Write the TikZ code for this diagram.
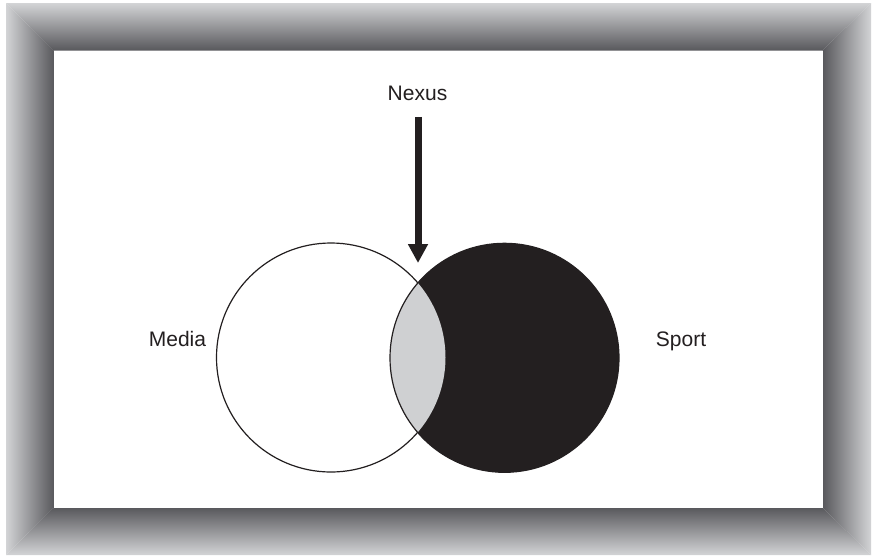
\documentclass[tikz,border=0pt]{standalone}
\usepackage{fontspec}
\setmainfont{Liberation Sans}
\usetikzlibrary{arrows.meta}

\definecolor{bevellight}{HTML}{D3D4D6}
\definecolor{beveldark}{HTML}{58585C}
\definecolor{lensgrey}{HTML}{CFD0D2}
\definecolor{inkblack}{HTML}{231F20}

\tikzset{
  label text/.style={font=\fontsize{21}{25}\selectfont, text=inkblack, inner sep=0pt},
  set outline/.style={draw=inkblack, line width=1.2pt},
  pointer/.style={draw=inkblack, line width=7pt,
    -{Triangle[width=19pt,length=19pt]}, fill=inkblack},
}

\begin{document}
\begin{tikzpicture}[x=1pt,y=-1pt]
  \useasboundingbox (0,0) rectangle (873,555);
  \fill[white] (0,0) rectangle (873,555);

  % bevelled frame: four mitred strips
  \shade[top color=bevellight, bottom color=beveldark]
    (6,3) -- (871,3) -- (822.5,50.5) -- (54,50.5) -- cycle;
  \shade[top color=beveldark, bottom color=bevellight]
    (54,507.5) -- (822.5,507.5) -- (871,555) -- (6,555) -- cycle;
  \shade[left color=bevellight, right color=beveldark]
    (6,3) -- (54,50.5) -- (54,507.5) -- (6,555) -- cycle;
  \shade[left color=beveldark, right color=bevellight]
    (822.5,50.5) -- (871,3) -- (871,555) -- (822.5,507.5) -- cycle;
  \fill[white] (54,50.5) rectangle (822.5,507.5);

  % the two sets
  \coordinate (mediaC) at (331,357.5);
  \coordinate (sportC) at (504.5,357.8);
  \def\setradius{114.5}

  \draw[set outline, fill=white] (mediaC) circle[radius=\setradius];
  \fill[inkblack] (sportC) circle[radius=\setradius];
  \begin{scope}
    \clip (mediaC) circle[radius=\setradius];
    \fill[lensgrey] (sportC) circle[radius=\setradius];
  \end{scope}
  \draw[set outline] (sportC) circle[radius=\setradius];

  % labels
  \node[label text, anchor=base] (nexus) at (417.5,100) {Nexus};
  \node[label text, anchor=base] (media) at (177.5,346) {Media};
  \node[label text, anchor=base] (sport) at (681,346) {Sport};

  % pointer to the overlap
  \coordinate (nexusTip) at (418,263);
  \draw[pointer] ([yshift=-16.5pt]nexus.south -| nexusTip) -- (nexusTip);
\end{tikzpicture}
\end{document}
